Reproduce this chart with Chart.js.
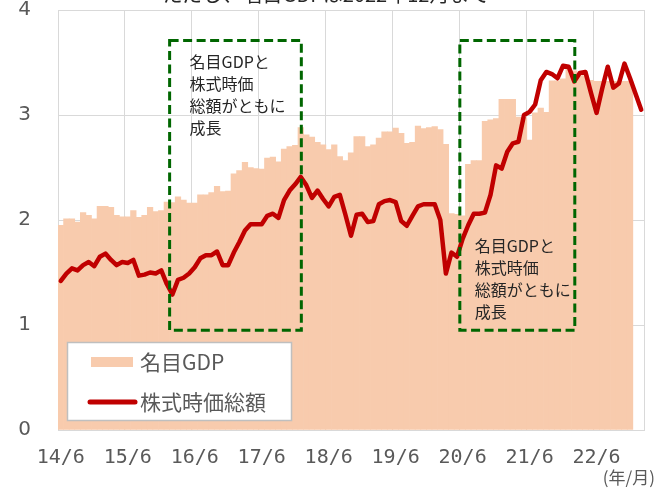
<!DOCTYPE html>
<html lang="ja">
<head>
<meta charset="utf-8">
<script src="https://cdn.jsdelivr.net/npm/chart.js@4.4.1/dist/chart.umd.min.js"></script>
<style>
  html, body { margin: 0; padding: 0; background: #fff; }
  #wrap { width: 655px; height: 488px; position: relative; }
</style>
</head>
<body>
<div id="wrap"><canvas id="gdpChart" width="655" height="488"></canvas></div>
<script>
// 名目GDP と 株式時価総額 (月次, 2014/6 - 2023/2)

// categories: one per month, 2014/6 .. 2023/2
const months = [];
for (let y = 2014, m = 6; months.length < 105; m++) {
  if (m > 12) { m = 1; y++; }
  months.push(String(y % 100) + '/' + m);
}
const tickLabels = ['14/6', '15/6', '16/6', '17/6', '18/6', '19/6', '20/6', '21/6', '22/6'];

// 名目GDP (2022/12 まで)
const nominalGdp = [
  1.95, 2.01, 2.01, 1.98, 2.07, 2.045, 2.01, 2.13, 2.13, 2.12, 2.045, 2.03,
  2.03, 2.09, 2.025, 2.045, 2.12, 2.08, 2.09, 2.17, 2.165, 2.22, 2.19, 2.16,
  2.16, 2.24, 2.24, 2.26, 2.32, 2.27, 2.275, 2.44, 2.47, 2.55, 2.50, 2.49,
  2.485, 2.59, 2.60, 2.555, 2.675, 2.70, 2.71, 2.88, 2.81, 2.79, 2.74, 2.715,
  2.67, 2.715, 2.605, 2.565, 2.64, 2.795, 2.795, 2.70, 2.715, 2.78, 2.84, 2.84,
  2.875, 2.825, 2.73, 2.74, 2.895, 2.87, 2.88, 2.89, 2.86, 2.72, 2.06, 2.055,
  2.04, 2.53, 2.565, 2.565, 2.94, 2.955, 2.965, 3.15, 3.15, 3.15, 2.98, 2.97,
  2.76, 3.02, 3.065, 3.025, 3.325, 3.325, 3.345, 3.44, 3.42, 3.375, 3.375, 3.33,
  3.32, 3.32, 3.32, 3.32, 3.32, 3.32, 3.32
];

// 株式時価総額
const marketCap = [
  1.42, 1.49, 1.54, 1.52, 1.57, 1.60, 1.56, 1.65, 1.68, 1.62, 1.57, 1.60,
  1.59, 1.62, 1.47, 1.48, 1.50, 1.49, 1.52, 1.39, 1.29, 1.43, 1.45, 1.49,
  1.55, 1.635, 1.665, 1.665, 1.70, 1.57, 1.57, 1.69, 1.79, 1.90, 1.96, 1.96,
  1.96, 2.04, 2.06, 2.02, 2.19, 2.28, 2.34, 2.41, 2.33, 2.21, 2.28, 2.20,
  2.13, 2.22, 2.24, 2.05, 1.85, 2.05, 2.06, 1.98, 1.99, 2.15, 2.18, 2.19,
  2.17, 1.99, 1.945, 2.04, 2.13, 2.15, 2.15, 2.15, 2.00, 1.49, 1.69, 1.65,
  1.82, 1.95, 2.06, 2.06, 2.07, 2.24, 2.52, 2.49, 2.65, 2.73, 2.745, 3.00,
  3.03, 3.10, 3.33, 3.41, 3.39, 3.35, 3.47, 3.46, 3.32, 3.40, 3.41, 3.21,
  3.02, 3.25, 3.46, 3.26, 3.30, 3.49, 3.35, 3.20, 3.05
];

const seriesNames = ['名目GDP', '株式時価総額'];
const noteLines = ['名目GDPと', '株式時価', '総額がともに', '成長'];
const titleText = 'ただし、名目GDPは2022年12月まで';
const unitText = '(年/月)';

const JP = '"Noto Sans CJK JP", "Noto Sans", sans-serif';
const GRID = '#D9D9D9';
const AXIS_TXT = '#595959';
const GDP_COLOR = '#F8CBAD';
const CAP_COLOR = '#C00000';
const BOX_COLOR = '#006600';

// boxes in data units: category index range and value range
const growthBoxes = [
  { from: 19.5, to: 43.1, low: 0.95, high: 3.71, textAt: 'top' },
  { from: 71.5, to: 92.1, low: 0.95, high: 3.71, textAt: 'bottom' }
];

const overlay = {
  id: 'overlay',
  afterDatasetsDraw(chart) {
    const ctx = chart.ctx;
    const xs = chart.scales.x, ys = chart.scales.y;
    const area = chart.chartArea;

    // right frame line
    ctx.save();
    ctx.strokeStyle = GRID;
    ctx.lineWidth = 1;
    ctx.beginPath();
    ctx.moveTo(Math.round(area.right) + 0.5, area.top);
    ctx.lineTo(Math.round(area.right) + 0.5, area.bottom);
    ctx.stroke();
    ctx.restore();

    // dashed boxes with note text
    growthBoxes.forEach(b => {
      const l = xs.getPixelForValue(b.from), r = xs.getPixelForValue(b.to);
      const t = ys.getPixelForValue(b.high), btm = ys.getPixelForValue(b.low);
      ctx.save();
      ctx.strokeStyle = BOX_COLOR;
      ctx.lineWidth = 3;
      ctx.setLineDash([9, 4.5]);
      ctx.strokeRect(l, t, r - l, btm - t);
      ctx.restore();

      ctx.save();
      ctx.fillStyle = '#262626';
      ctx.font = '16px ' + JP;
      ctx.textAlign = 'left';
      ctx.textBaseline = 'middle';
      const lh = 22;
      const y0 = b.textAt === 'top' ? t + 21 : btm - 84;
      const x0 = b.textAt === 'top' ? l + 20 : l + 15;
      noteLines.forEach((s, k) => ctx.fillText(s, x0, y0 + k * lh));
      ctx.restore();
    });

    // legend box
    ctx.save();
    ctx.fillStyle = '#ffffff';
    ctx.fillRect(67.5, 342.5, 224, 78);
    ctx.strokeStyle = '#BFBFBF';
    ctx.lineWidth = 1.5;
    ctx.strokeRect(67.5, 342.5, 224, 78);
    ctx.fillStyle = GDP_COLOR;
    ctx.fillRect(91, 357, 42, 10);
    ctx.strokeStyle = CAP_COLOR;
    ctx.lineWidth = 5;
    ctx.lineCap = 'round';
    ctx.beginPath(); ctx.moveTo(90, 402); ctx.lineTo(135, 402); ctx.stroke();
    ctx.fillStyle = AXIS_TXT;
    ctx.font = '21px ' + JP;
    ctx.textBaseline = 'middle';
    ctx.textAlign = 'left';
    ctx.fillText(seriesNames[0], 140, 362);
    ctx.fillText(seriesNames[1], 140, 402);
    ctx.restore();
  },
  afterDraw(chart) {
    const ctx = chart.ctx;
    ctx.save();
    ctx.fillStyle = '#262626';
    ctx.font = '20px ' + JP;
    ctx.textAlign = 'center';
    ctx.textBaseline = 'middle';
    ctx.fillText(titleText, 326, -6);
    ctx.fillStyle = AXIS_TXT;
    ctx.font = '17px ' + JP;
    ctx.textAlign = 'right';
    ctx.fillText(unitText, 655, 478);
    ctx.restore();
  }
};

new Chart(document.getElementById('gdpChart'), {
  data: {
    labels: months,
    datasets: [
      {
        type: 'line', label: seriesNames[1], data: marketCap, order: 0,
        borderColor: CAP_COLOR, borderWidth: 4.5, pointRadius: 0, tension: 0,
        borderJoinStyle: 'round', borderCapStyle: 'round'
      },
      {
        type: 'bar', label: seriesNames[0], data: nominalGdp, order: 1,
        backgroundColor: GDP_COLOR, borderWidth: 0,
        barPercentage: 1.0, categoryPercentage: 1.0
      }
    ]
  },
  options: {
    responsive: false, animation: false,
    layout: { padding: { top: 10, right: 11, left: 0, bottom: 0 } },
    plugins: { legend: { display: false }, tooltip: { enabled: false } },
    scales: {
      x: {
        offset: true,
        grid: {
          offset: true, drawTicks: false, lineWidth: 1,
          color: c => (c.index === undefined || c.index % 12 === 0) ? GRID : 'rgba(0,0,0,0)'
        },
        border: { display: true, color: GRID },
        ticks: {
          autoSkip: false, maxRotation: 0, minRotation: 0, padding: 16,
          color: AXIS_TXT, font: { family: 'DejaVu Sans Mono', size: 20 },
          callback: (v, i) => (i % 12 === 0 ? tickLabels[i / 12] : '')
        },
        afterFit: s => { s.height = 58; s.paddingLeft = 0; s.paddingRight = 0; }
      },
      y: {
        min: 0, max: 4,
        grid: { color: GRID, drawTicks: false, lineWidth: 1 },
        border: { display: false },
        ticks: { stepSize: 1, padding: 27, color: AXIS_TXT, font: { family: 'DejaVu Sans', size: 20 } },
        afterFit: s => { s.width = 58; s.paddingTop = 0; s.paddingBottom = 0; }
      }
    }
  },
  plugins: [overlay]
});
</script>
</body>
</html>
